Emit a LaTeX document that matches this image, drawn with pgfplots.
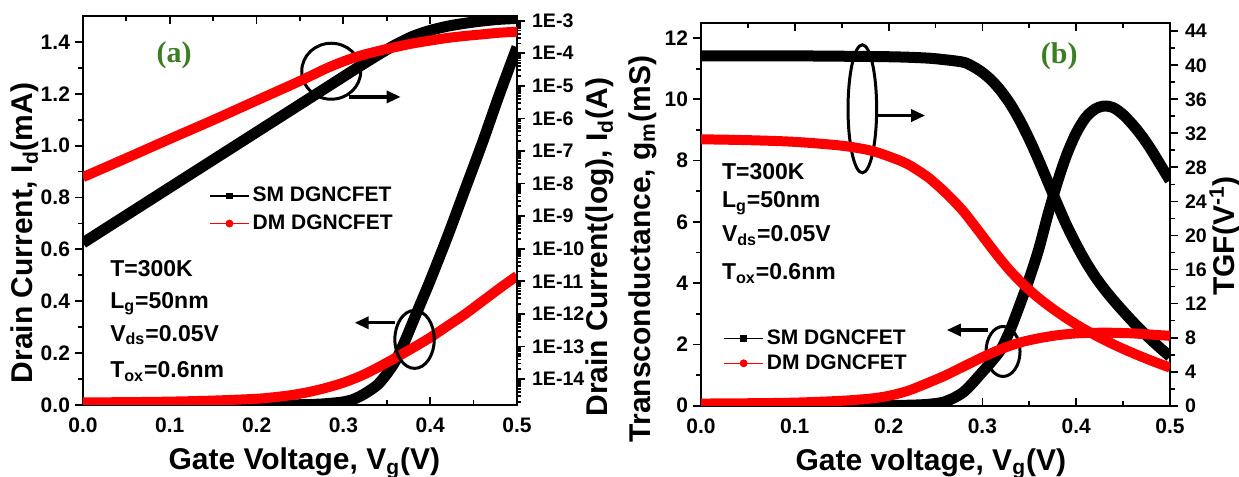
\documentclass[border=0pt]{standalone}
\usepackage{pgfplots}
\pgfplotsset{compat=1.18}
\usepackage{fontspec}
\setmainfont{Liberation Sans}
\newfontfamily\serifb{Liberation Serif}
\usetikzlibrary{arrows.meta}
\definecolor{myred}{RGB}{255,0,0}
\definecolor{mygreen}{RGB}{61,125,36}
\newcommand{\tkf}{\bfseries\fontsize{10.5}{12}\selectfont}
\newcommand{\tks}{\bfseries\fontsize{9.8}{11}\selectfont}
\newcommand{\lbf}{\bfseries\fontsize{15}{18}\selectfont}
\newcommand{\anf}{\bfseries\fontsize{11.5}{13}\selectfont}
\newcommand{\lgf}{\bfseries\fontsize{10.5}{12}\selectfont}

\pgfplotstableread{
vg id
0.00 0
0.05 0
0.10 0
0.15 0
0.20 0
0.25 0.001
0.27 0.003
0.28 0.005
0.29 0.008
0.30 0.012
0.31 0.02
0.32 0.035
0.33 0.055
0.34 0.08
0.35 0.12
0.36 0.17
0.37 0.24
0.38 0.32
0.39 0.40
0.40 0.48
0.42 0.65
0.44 0.83
0.46 1.01
0.48 1.20
0.50 1.38
}\smlin
\pgfplotstableread{
vg id
0.00 0.010
0.05 0.011
0.10 0.013
0.15 0.017
0.20 0.024
0.22 0.030
0.24 0.038
0.26 0.050
0.28 0.066
0.30 0.086
0.32 0.112
0.34 0.145
0.36 0.182
0.38 0.220
0.40 0.260
0.42 0.305
0.44 0.350
0.46 0.400
0.48 0.450
0.50 0.498
}\dmlin
\pgfplotstableread{
vg id
0.00 1.51e-10
0.05 1.07e-9
0.10 7.59e-9
0.15 5.37e-8
0.20 3.80e-7
0.25 2.69e-6
0.28 8.71e-6
0.30 1.91e-5
0.32 4.17e-5
0.34 8.91e-5
0.36 1.82e-4
0.38 3.31e-4
0.40 5.01e-4
0.42 6.76e-4
0.44 8.32e-4
0.46 9.77e-4
0.48 1.10e-3
0.50 1.17e-3
}\smlog
\pgfplotstableread{
vg id
0.00 1.58e-8
0.05 6.03e-8
0.10 2.34e-7
0.15 8.91e-7
0.20 3.55e-6
0.25 1.41e-5
0.28 3.39e-5
0.30 5.62e-5
0.32 8.51e-5
0.34 1.17e-4
0.36 1.55e-4
0.38 2.00e-4
0.40 2.45e-4
0.42 2.95e-4
0.44 3.39e-4
0.46 3.80e-4
0.48 4.27e-4
0.50 4.57e-4
}\dmlog
\pgfplotstableread{
vg gm
0.00 0
0.10 0
0.18 0
0.20 0.005
0.22 0.015
0.24 0.04
0.26 0.13
0.28 0.45
0.30 1.1
0.31 1.45
0.32 1.85
0.33 2.5
0.34 3.3
0.35 4.15
0.36 5.1
0.37 6.25
0.38 7.3
0.39 8.2
0.40 8.9
0.41 9.4
0.42 9.68
0.43 9.78
0.44 9.72
0.45 9.5
0.46 9.18
0.47 8.8
0.48 8.35
0.49 7.85
0.50 7.35
}\smgm
\pgfplotstableread{
vg gm
0.00 0.07
0.05 0.08
0.10 0.10
0.15 0.16
0.18 0.23
0.20 0.32
0.22 0.48
0.24 0.72
0.26 0.98
0.28 1.28
0.30 1.58
0.32 1.85
0.34 2.06
0.36 2.20
0.38 2.30
0.40 2.36
0.42 2.38
0.44 2.38
0.46 2.36
0.48 2.32
0.50 2.28
}\dmgm
\pgfplotstableread{
vg tgf
0.00 41.1
0.10 41.1
0.20 41.0
0.24 40.85
0.26 40.65
0.28 40.35
0.29 39.85
0.30 39.15
0.31 38.2
0.32 36.95
0.33 35.4
0.34 33.5
0.35 31.3
0.36 28.85
0.37 26.25
0.38 23.65
0.39 21.15
0.40 18.95
0.41 16.95
0.42 15.2
0.43 13.7
0.44 12.35
0.45 11.1
0.46 9.9
0.47 8.78
0.48 7.73
0.49 6.73
0.50 5.78
}\smtgf
\pgfplotstableread{
vg tgf
0.00 31.3
0.05 31.2
0.10 31.0
0.15 30.55
0.18 30.0
0.20 29.3
0.22 28.4
0.24 27.0
0.25 26.1
0.26 25.1
0.27 24.0
0.28 22.8
0.29 21.4
0.30 19.95
0.31 18.5
0.32 17.1
0.33 15.8
0.34 14.65
0.35 13.6
0.36 12.65
0.37 11.8
0.38 11.0
0.39 10.25
0.40 9.55
0.41 8.9
0.42 8.3
0.43 7.73
0.44 7.19
0.45 6.68
0.46 6.2
0.47 5.74
0.48 5.3
0.49 4.88
0.50 4.48
}\dmtgf

\pgfplotsset{
  common/.style={
    scale only axis,
    xmin=0, xmax=0.5,
    /pgf/number format/assume math mode=true,
    tick label style={font=\tkf},
    label style={font=\lbf},
    axis line style={line width=1pt},
    every tick/.style={line width=0.9pt, black},
    major tick length=4pt, minor tick length=2.5pt,
    tick align=inside,
    xtick={0,0.1,0.2,0.3,0.4,0.5}, minor x tick num=1,
    xticklabel style={yshift=-3pt, /pgf/number format/.cd, fixed, fixed zerofill, precision=1},
    legend cell align=left,
    legend image code/.code={\draw[mark repeat=2,mark phase=2,#1] plot coordinates {(0pt,0pt) (9.75pt,0pt) (19.5pt,0pt)};},
  },
  leftout/.style={
    major y tick style={xshift=-4pt},
    minor y tick style={xshift=-2.5pt},
  },
  blk/.style={black, line width=5.5pt, smooth, no markers, line join=round},
  rd/.style={myred, line width=5pt, smooth, no markers, line join=round},
}

\begin{document}
\begin{tikzpicture}
\useasboundingbox (0,0) rectangle (619.5pt,238.5pt);
% ---------------- panel (a) ----------------
\begin{axis}[common, leftout, at={(41.5pt,36pt)}, anchor=south west,
  width=217pt, height=194.5pt,
  ymin=0, ymax=1.5, ytick={0,0.2,0.4,0.6,0.8,1.0,1.2,1.4}, minor y tick num=1,
  ytick pos=left,
  yticklabel style={xshift=-3pt, /pgf/number format/.cd, fixed, fixed zerofill, precision=1},
  xlabel={Gate Voltage, V\textsubscript{g}(V)},
  ylabel={Drain Current, I\textsubscript{d}(mA)},
  xlabel style={at={(rel axis cs:0.51,-0.167)}, anchor=base},
  ylabel style={at={(rel axis cs:-0.134,0.442)}, anchor=center},
  legend style={at={(0.29,0.569)}, anchor=north west, draw=none, fill=none,
    font=\lgf, row sep=2pt, inner sep=0pt, nodes={inner sep=1.5pt}},
]
\addlegendimage{black, line width=0.7pt, mark=square*, mark size=1.3pt}
\addlegendentry{SM DGNCFET}
\addlegendimage{myred, line width=0.7pt, mark=*, mark size=1.6pt}
\addlegendentry{DM DGNCFET}
\addplot[blk, forget plot] table[x=vg, y=id] {\smlin};
\addplot[rd, forget plot] table[x=vg, y=id] {\dmlin};
\node[font=\serifb\bfseries\fontsize{15}{17}\selectfont, text=mygreen] at (axis cs:0.105,1.35) {(a)};
\draw[line width=1.5pt] (axis cs:0.286,1.287) ellipse [x radius=14.75pt, y radius=14pt];
\draw[line width=1.6pt, -{Triangle[length=7pt,width=6pt]}] (axis cs:0.307,1.188) -- (axis cs:0.366,1.188);
\draw[line width=1.5pt] (axis cs:0.382,0.253) ellipse [x radius=9.85pt, y radius=14.5pt];
\draw[line width=1.6pt, -{Triangle[length=7pt,width=6pt]}] (axis cs:0.359,0.317) -- (axis cs:0.313,0.317);
\node[anchor=base west, inner sep=0pt, font=\anf] at (axis cs:0.031,0.496) {T=300K};
\node[anchor=base west, inner sep=0pt, font=\anf] at (axis cs:0.031,0.374) {L\textsubscript{g}=50nm};
\node[anchor=base west, inner sep=0pt, font=\anf] at (axis cs:0.031,0.246) {V\textsubscript{ds}=0.05V};
\node[anchor=base west, inner sep=0pt, font=\anf] at (axis cs:0.031,0.105) {T\textsubscript{ox}=0.6nm};
\end{axis}
\begin{axis}[common, at={(41.5pt,36pt)}, anchor=south west,
  width=217pt, height=194.5pt,
  ymode=log, ymin=1.6e-15, ymax=1.39e-3,
  axis x line=none, axis y line*=right, tick align=outside,
  ytickten={-14,-13,-12,-11,-10,-9,-8,-7,-6,-5,-4,-3},
  yticklabels={1E-14,1E-13,1E-12,1E-11,1E-10,1E-9,1E-8,1E-7,1E-6,1E-5,1E-4,1E-3},
  minor ytick={2e-15,3e-15,4e-15,5e-15,6e-15,7e-15,8e-15,9e-15,
    2e-14,3e-14,4e-14,5e-14,6e-14,7e-14,8e-14,9e-14,
    2e-13,3e-13,4e-13,5e-13,6e-13,7e-13,8e-13,9e-13,
    2e-12,3e-12,4e-12,5e-12,6e-12,7e-12,8e-12,9e-12,
    2e-11,3e-11,4e-11,5e-11,6e-11,7e-11,8e-11,9e-11,
    2e-10,3e-10,4e-10,5e-10,6e-10,7e-10,8e-10,9e-10,
    2e-9,3e-9,4e-9,5e-9,6e-9,7e-9,8e-9,9e-9,
    2e-8,3e-8,4e-8,5e-8,6e-8,7e-8,8e-8,9e-8,
    2e-7,3e-7,4e-7,5e-7,6e-7,7e-7,8e-7,9e-7,
    2e-6,3e-6,4e-6,5e-6,6e-6,7e-6,8e-6,9e-6,
    2e-5,3e-5,4e-5,5e-5,6e-5,7e-5,8e-5,9e-5,
    2e-4,3e-4,4e-4,5e-4,6e-4,7e-4,8e-4,9e-4},
  minor tick length=2pt,
  yticklabel style={font=\tks},
  ylabel={Drain Current(log), I\textsubscript{d}(A)},
  ylabel style={at={(rel axis cs:1.191,0.406)}, anchor=center},
]
\addplot[blk] table[x=vg, y=id] {\smlog};
\addplot[rd] table[x=vg, y=id] {\dmlog};
\end{axis}
% ---------------- panel (b) ----------------
\begin{axis}[common, leftout, at={(350.5pt,35.65pt)}, anchor=south west,
  width=234.5pt, height=191.5pt,
  ymin=0, ymax=12.5, ytick={0,2,4,6,8,10,12}, minor y tick num=1,
  ytick pos=left,
  yticklabel style={xshift=-3pt},
  xlabel={Gate voltage, V\textsubscript{g}(V)},
  ylabel={Transconductance, g\textsubscript{m}(mS)},
  xlabel style={at={(rel axis cs:0.49,-0.168)}, anchor=base},
  ylabel style={at={(rel axis cs:-0.124,0.409)}, anchor=center},
  legend style={at={(0.047,0.207)}, anchor=north west, draw=none, fill=none,
    font=\lgf, row sep=0.5pt, inner sep=0pt, nodes={inner sep=1.5pt}},
]
\addlegendimage{black, line width=0.7pt, mark=square*, mark size=1.3pt}
\addlegendentry{SM DGNCFET}
\addlegendimage{myred, line width=0.7pt, mark=*, mark size=1.6pt}
\addlegendentry{DM DGNCFET}
\addplot[blk, forget plot] table[x=vg, y=gm] {\smgm};
\node[font=\serifb\bfseries\fontsize{15}{17}\selectfont, text=mygreen] at (axis cs:0.382,11.39) {(b)};
\draw[line width=1.5pt] (axis cs:0.172,9.69) ellipse [x radius=7.15pt, y radius=32pt];
\draw[line width=1.6pt, -{Triangle[length=7pt,width=6pt]}] (axis cs:0.187,9.47) -- (axis cs:0.239,9.47);
\draw[line width=1.5pt] (axis cs:0.322,1.77) ellipse [x radius=8.5pt, y radius=12.5pt];
\draw[line width=1.6pt, -{Triangle[length=7pt,width=6pt]}] (axis cs:0.3065,2.47) -- (axis cs:0.262,2.47);
\node[anchor=base west, inner sep=0pt, font=\anf] at (axis cs:0.022,7.37) {T=300K};
\node[anchor=base west, inner sep=0pt, font=\anf] at (axis cs:0.022,6.46) {L\textsubscript{g}=50nm};
\node[anchor=base west, inner sep=0pt, font=\anf] at (axis cs:0.022,5.35) {V\textsubscript{ds}=0.05V};
\node[anchor=base west, inner sep=0pt, font=\anf] at (axis cs:0.022,4.11) {T\textsubscript{ox}=0.6nm};
\end{axis}
\begin{axis}[common, at={(350.5pt,35.65pt)}, anchor=south west,
  width=234.5pt, height=191.5pt,
  ymin=0, ymax=45, ytick={0,4,8,12,16,20,24,28,32,36,40,44}, minor y tick num=1,
  axis x line=none, axis y line*=right, tick align=outside,
  yticklabel style={font=\tks},
  ylabel={TGF(V\textsuperscript{-1})},
  ylabel style={at={(rel axis cs:1.117,0.443)}, anchor=center},
]
\addplot[blk] table[x=vg, y=tgf] {\smtgf};
\addplot[rd] table[x=vg, y=tgf] {\dmtgf};
\end{axis}
\begin{axis}[common, at={(350.5pt,35.65pt)}, anchor=south west,
  width=234.5pt, height=191.5pt, hide axis,
  ymin=0, ymax=12.5,
]
\addplot[rd] table[x=vg, y=gm] {\dmgm};
\end{axis}
\end{tikzpicture}
\end{document}
